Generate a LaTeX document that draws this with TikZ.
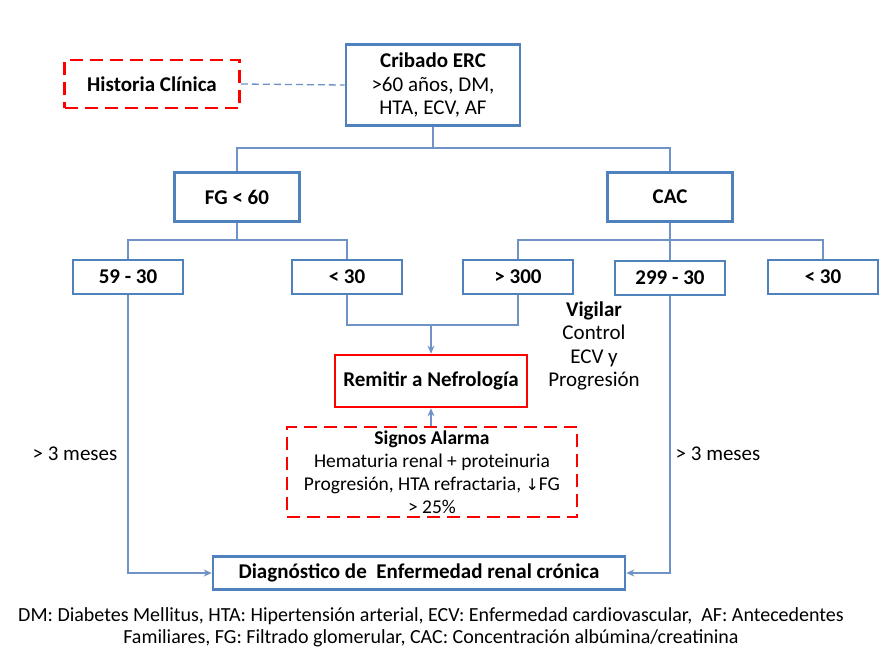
\documentclass[tikz,border=0pt]{standalone}
\usepackage{fontspec}
\setmainfont{Carlito}
\newfontfamily\dvfont{DejaVu Sans}
\usetikzlibrary{arrows.meta}
\definecolor{bl}{HTML}{4F81BD}
\definecolor{bll}{HTML}{6F93C6}
\definecolor{rd}{HTML}{FF0000}
\tikzset{
  mfont/.style={font=\fontsize{21}{23.5}\selectfont},
  bbox/.style={draw=bl, line width=2.6pt, fill=white, inner sep=0pt, align=center, mfont},
  rbox/.style={draw=rd, line width=2.6pt, fill=white, inner sep=0pt, align=center, mfont},
  dbox/.style={draw=rd, line width=2.6pt, dash pattern=on 13pt off 7pt, inner sep=0pt, align=center, mfont},
  conn/.style={draw=bll, line width=1.3pt},
  arr/.style={conn, -{Stealth[length=8pt,width=7pt]}},
  lbl/.style={inner sep=0pt, align=center, mfont},
}
\begin{document}
\begin{tikzpicture}[x=1pt,y=-1pt]
\useasboundingbox (0,0) rectangle (887,662);
\fill[white] (0,0) rectangle (887,662);
% nodes
\node[dbox, minimum width=175pt, minimum height=48pt] (hc) at (152,84) {\textbf{Historia Clínica}};
\node[bbox, minimum width=174pt, minimum height=81pt] (cr) at (433,85) {\textbf{Cribado ERC}\\>60 años, DM,\\HTA, ECV, AF};
\node[bbox, minimum width=125pt, minimum height=49pt] (fg) at (237,197) {\textbf{FG < 60}};
\node[bbox, minimum width=125pt, minimum height=49pt] (cac) at (670,197) {\textbf{CAC}};
\node[bbox, minimum width=110pt, minimum height=34pt] (a1) at (128,277) {\textbf{59 - 30}};
\node[bbox, minimum width=110pt, minimum height=34pt] (a2) at (347,277) {\textbf{< 30}};
\node[bbox, minimum width=110pt, minimum height=34pt] (b1) at (518,277) {\textbf{> 300}};
\node[bbox, minimum width=110pt, minimum height=34pt] (b2) at (670,278) {\textbf{299 - 30}};
\node[bbox, minimum width=110pt, minimum height=34pt] (b3) at (823,277) {\textbf{< 30}};
\node[rbox, minimum width=192pt, minimum height=52pt] (rn) at (431,381) {\textbf{Remitir a Nefrología}};
\node[dbox, minimum width=290pt, minimum height=90pt, font=\fontsize{19.5}{23}\selectfont] (sa) at (432,472) {\textbf{Signos Alarma}\\Hematuria renal + proteinuria\\Progresión, HTA refractaria, {\dvfont\fontsize{16}{23}\selectfont ↓}FG\\> 25\%};
\node[bbox, minimum width=412pt, minimum height=33pt] (dx) at (419,573) {\textbf{Diagnóstico de\ \ Enfermedad renal crónica}};
% texts
\node[lbl] (vg) at (594,346) {\textbf{Vigilar}\\Control\\ECV y\\Progresión};
\node[lbl] (m1) at (75,454) {> 3 meses};
\node[lbl] (m2) at (718,454) {> 3 meses};
\node[lbl, font=\fontsize{20}{22}\selectfont] (cap) at (431,627) {DM: Diabetes Mellitus, HTA: Hipertensión arterial, ECV: Enfermedad cardiovascular,\ \ AF: Antecedentes\\Familiares, FG: Filtrado glomerular, CAC: Concentración albúmina/creatinina};
% connectors
\draw[conn, dash pattern=on 7pt off 4pt] (hc.east) -- (cr.west);
\coordinate (j1) at (433,148);
\draw[conn] (cr.south) -- (j1);
\draw[conn] (fg.north) |- (j1) -| (cac.north);
\coordinate (j2) at (237,240);
\draw[conn] (fg.south) -- (j2);
\draw[conn] (a1.north) |- (j2) -| (a2.north);
\coordinate (j3) at (670,240);
\draw[conn] (cac.south) -- (b2.north);
\draw[conn] (b1.north) |- (j3) -| (b3.north);
\coordinate (j4) at (431,325);
\draw[conn] (a2.south) |- (j4) -| (b1.south);
\draw[arr] (j4) -- (rn.north);
\draw[arr] (sa.north -| rn.south) -- (rn.south);
\draw[arr] (a1.south) |- (dx.west);
\draw[arr] (b2.south) |- (dx.east);
\end{tikzpicture}
\end{document}
